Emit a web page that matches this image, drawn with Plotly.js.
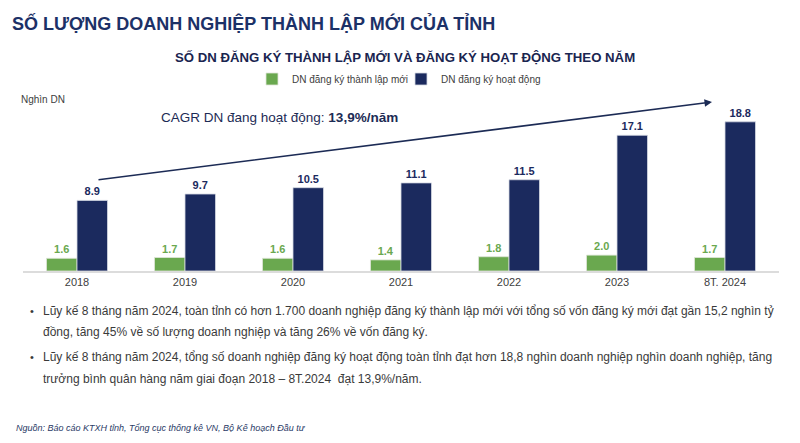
<!DOCTYPE html>
<html>
<head>
<meta charset="utf-8">
<script src="https://cdn.plot.ly/plotly-3.0.1.min.js"></script>
<style>html,body{margin:0;padding:0;background:#fff;}#chart{width:800px;height:443px;}</style>
</head>
<body>
<div id="chart"></div>
<script>
const categories = ["2018", "2019", "2020", "2021", "2022", "2023", "8T. 2024"];
const newRegistered = [1.6, 1.7, 1.6, 1.4, 1.8, 2.0, 1.7];
const activeRegistered = [8.9, 9.7, 10.5, 11.1, 11.5, 17.1, 18.8];
const seriesNames = ["DN đăng ký thành lập mới", "DN đăng ký hoạt động"];

const W = 800, H = 443;
const M = {l: 23, r: 21, t: 100, b: 172};
const PW = W - M.l - M.r, PH = H - M.t - M.b;
const px2x = p => (p - M.l) / PW;
const px2y = p => (H - M.b - p) / PH;

const GREEN = "#6aa84f", NAVY = "#1b2a5e", TXT = "#3a3a3a";
const FONT = "Liberation Sans, Arial, sans-serif";

const traces = [
  {type: "bar", name: seriesNames[0], x: categories, y: newRegistered,
   marker: {color: GREEN, line: {color: "#dfe6d9", width: 0.8}},
   texttemplate: "<b>%{y:.1f}</b>", textposition: "outside", cliponaxis: false,
   textfont: {family: FONT, size: 11, color: GREEN}, hoverinfo: "skip"},
  {type: "bar", name: seriesNames[1], x: categories, y: activeRegistered,
   marker: {color: NAVY, line: {color: "#d5d9e3", width: 0.8}},
   texttemplate: "<b>%{y:.1f}</b>", textposition: "outside", cliponaxis: false,
   textfont: {family: FONT, size: 11, color: NAVY}, hoverinfo: "skip"}
];

const ann = [];
function addText(text, xp, yp, size, color, opts) {
  ann.push(Object.assign({text: text, xref: "paper", yref: "paper", x: px2x(xp), y: px2y(yp),
    xanchor: "left", yanchor: "middle", showarrow: false,
    font: {family: FONT, size: size, color: color}}, opts || {}));
}
addText("<b>SỐ DN ĐĂNG KÝ THÀNH LẬP MỚI VÀ ĐĂNG KÝ HOẠT ĐỘNG THEO NĂM</b>", 405, 58, 13.2, "#1a2550", {xanchor: "center"});
addText("Nghìn DN", 19, 99, 10, "#404040");
addText("CAGR DN đang hoạt động: <b>13,9%/năm</b>", 159, 117, 13.5, "#1c2b55");
addText("•", 28, 311, 11, TXT);
addText("Lũy kế 8 tháng năm 2024, toàn tỉnh có hơn 1.700 doanh nghiệp đăng ký thành lập mới với tổng số vốn đăng ký mới đạt gần 15,2 nghìn tỷ", 41, 311, 12, TXT);
addText("đồng, tăng 45% về số lượng doanh nghiệp và tăng 26% về vốn đăng ký.", 41, 332, 12, TXT);
addText("•", 28, 357, 11, TXT);
addText("Lũy kế 8 tháng năm 2024, tổng số doanh nghiệp đăng ký hoạt động toàn tỉnh đạt hơn 18,8 nghìn doanh nghiệp nghìn doanh nghiệp, tăng", 41, 357, 12, TXT);
addText("trưởng bình quân hàng năm giai đoạn 2018 – 8T.2024  đạt 13,9%/năm.", 41, 379, 12, TXT);
addText("<i>Nguồn: Báo cáo KTXH tỉnh, Tổng cục thống kê VN, Bộ Kế hoạch Đầu tư</i>", 14, 428, 9, "#2a3a66");

// CAGR arrow
ann.push({xref: "paper", yref: "paper", x: px2x(712), y: px2y(102),
  axref: "paper", ayref: "paper", ax: px2x(97), ay: px2y(180),
  showarrow: true, arrowhead: 2, arrowsize: 1, arrowwidth: 1.5, arrowcolor: "#1c2b55", text: ""});

const layout = {
  width: W, height: H, margin: M,
  paper_bgcolor: "#fff", plot_bgcolor: "#fff",
  font: {family: FONT, color: TXT},
  title: {text: "<b>SỐ LƯỢNG DOANH NGHIỆP THÀNH LẬP MỚI CỦA TỈNH</b>", x: 12 / W, xanchor: "left",
    xref: "container", yref: "container", y: 1 - 24 / H, yanchor: "middle",
    font: {family: FONT, size: 18, color: "#1c3167"}},
  barmode: "group", bargap: 0.435, bargroupgap: 0,
  xaxis: {type: "category", range: [-0.5, 6.5], showline: true, linecolor: "#dcdcdc", linewidth: 1.5,
    ticks: "", tickfont: {family: FONT, size: 11, color: "#404040"}, showgrid: false, zeroline: false},
  yaxis: {range: [0, 21.55], visible: false, showgrid: false, zeroline: false},
  showlegend: true,
  legend: {orientation: "h", x: px2x(252), xanchor: "left", y: px2y(79), yanchor: "middle",
    font: {family: FONT, size: 10, color: "#404040"}, itemwidth: 30, entrywidth: 104, entrywidthmode: "pixels",
    bgcolor: "rgba(0,0,0,0)"},
  annotations: ann
};

Plotly.newPlot("chart", traces, layout, {displayModeBar: false, staticPlot: true});
</script>
</body>
</html>
